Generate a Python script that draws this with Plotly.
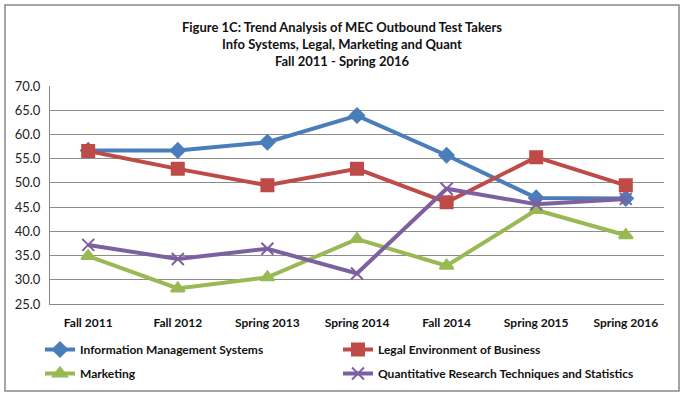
import plotly.graph_objects as go

categories = ["Fall 2011", "Fall 2012", "Spring 2013", "Spring 2014", "Fall 2014", "Spring 2015", "Spring 2016"]
info_mgmt = [56.7, 56.7, 58.4, 63.9, 55.7, 46.9, 46.8]
legal_env = [56.6, 52.9, 49.5, 52.9, 46.0, 55.3, 49.5]
marketing = [34.9, 28.2, 30.5, 38.4, 32.9, 44.4, 39.2]
quant = [37.2, 34.3, 36.4, 31.3, 48.8, 45.6, 46.7]
y_ticks = [25, 30, 35, 40, 45, 50, 55, 60, 65, 70]

series = [
    ("Information Management Systems", info_mgmt, "#4A7EBB", "diamond", 11, "legend"),
    ("Legal Environment of Business", legal_env, "#BE4B48", "square", 12, "legend"),
    ("Marketing", marketing, "#98B954", "triangle-up", 12, "legend2"),
    ("Quantitative Research Techniques and Statistics", quant, "#7D60A0", "x-thin", 12, "legend2"),
]

fig = go.Figure()
for name, vals, color, sym, size, leg in series:
    fig.add_trace(go.Scatter(
        x=categories, y=vals, name=name, mode="lines+markers",
        line=dict(color=color, width=4),
        marker=dict(symbol=sym, size=size, color=color,
                    line=dict(color=color, width=2)),
        legend=leg,
    ))

W, H = 684, 394
L, R, T, B = 50, 20, 86, 90
pw, ph = W - L - R, H - T - B

font_family = "Lato, 'Open Sans', sans-serif"
legend_common = dict(
    orientation="h", xref="container", yref="container",
    x=40 / W, xanchor="left", yanchor="top",
    entrywidth=253, entrywidthmode="pixels",
    font=dict(size=12, color="#111", weight="bold"), itemwidth=30,
    bgcolor="rgba(0,0,0,0)",
)
fig.update_layout(
    width=W, height=H,
    margin=dict(l=L, r=R, t=T, b=B, autoexpand=False),
    paper_bgcolor="white", plot_bgcolor="white",
    font=dict(family=font_family, size=12, color="#222"),
    title=dict(
        text="Figure 1C: Trend Analysis of MEC Outbound Test Takers<br>Info Systems, Legal, Marketing and Quant<br>Fall 2011 - Spring 2016",
        x=0.5, xanchor="center", y=1 - 32 / H, yanchor="top",
        font=dict(family=font_family, size=13, color="#111", weight="bold"),
    ),
    xaxis=dict(
        type="category", showgrid=False, showline=True, linecolor="#888", linewidth=1,
        ticks="", tickfont=dict(size=12, weight="bold", color="#111"),
        ticklabelstandoff=8,
    ),
    yaxis=dict(
        range=[25, 70], tickvals=y_ticks, tickformat=".1f",
        showgrid=True, gridcolor="#8c8c8c", gridwidth=1,
        showline=True, linecolor="#888", linewidth=1, zeroline=False,
        ticks="", tickfont=dict(size=13, color="#222"), ticklabelstandoff=6,
    ),
    legend=dict(**legend_common, y=1 - 335 / H),
    legend2=dict(**legend_common, y=1 - 359 / H),
    shapes=[dict(type="rect", xref="paper", yref="paper",
                 x0=(5 - L) / pw, x1=(679 - L) / pw,
                 y0=(H - B - 391) / ph, y1=(H - B - 5) / ph,
                 line=dict(color="#888", width=1.5), layer="below")],
)

fig.write_html("out.html", config={"displayModeBar": False},
               post_script="document.body.style.margin='0';")
